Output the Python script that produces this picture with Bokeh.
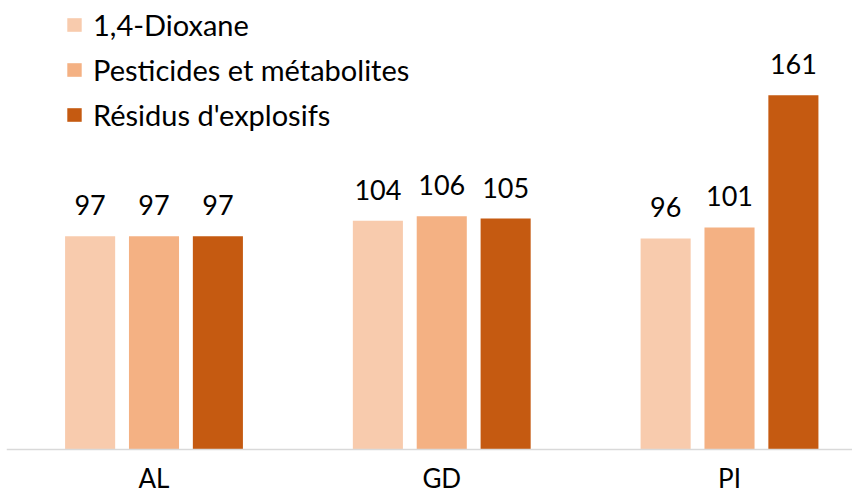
from bokeh.plotting import figure
from bokeh.models import Range1d, FixedTicker, Legend, LegendItem, ColumnDataSource
from bokeh.core.properties import value
from bokeh.embed import file_html
from bokeh.resources import INLINE

groups = ["AL", "GD", "PI"]
series = ["1,4-Dioxane", "Pesticides et métabolites", "Résidus d'explosifs"]
dioxane = [97, 104, 96]
pesticides = [97, 106, 101]
explosifs = [97, 105, 161]
colors = ["#F8CBAD", "#F4B183", "#C55A11"]

FONT = "Lato"
offsets = [-0.222, 0.0, 0.222]
bar_w = 0.174

p = figure(width=852, height=494, output_backend="svg", toolbar_location=None,
           x_range=Range1d(-0.5126, 2.4274), y_range=Range1d(-20.2, 203.95),
           min_border_left=6, min_border_right=0, min_border_top=0, min_border_bottom=0)
p.outline_line_color = None
p.xgrid.visible = False
p.ygrid.visible = False
p.yaxis.visible = False

items = []
for vals, name, col, off in zip([dioxane, pesticides, explosifs], series, colors, offsets):
    src = ColumnDataSource(dict(x=[i + off for i in range(len(groups))], top=vals,
                                lab=[str(v) for v in vals]))
    r = p.vbar(x="x", top="top", width=bar_w, bottom=0, source=src,
               fill_color=col, line_color=None)
    p.text(x="x", y="top", text="lab", source=src, text_align="center",
           text_baseline="alphabetic", y_offset=-31, text_font=value(FONT),
           text_font_size="27px", text_color="#000000")
    items.append(LegendItem(label=name, renderers=[r]))

xa = p.xaxis[0]
xa.fixed_location = 0
xa.ticker = FixedTicker(ticks=list(range(len(groups))))
xa.major_label_overrides = {i: g for i, g in enumerate(groups)}
xa.major_tick_in = 0
xa.major_tick_out = 0
xa.minor_tick_in = 0
xa.minor_tick_out = 0
xa.axis_line_color = "#D9D9D9"
xa.axis_line_width = 1.5
xa.major_label_standoff = 12
xa.major_label_text_font = FONT
xa.major_label_text_font_size = "26px"
xa.major_label_text_color = "#000000"

legend = Legend(items=items, location=(59, 362.5), orientation="vertical",
                glyph_width=18, glyph_height=17, label_height=34, spacing=10,
                label_standoff=10, padding=0, margin=0,
                border_line_color=None, background_fill_alpha=0,
                label_text_font=FONT, label_text_font_size="29px",
                label_text_color="#000000")
p.add_layout(legend)

open("out.html", "w").write(file_html(p, INLINE))
